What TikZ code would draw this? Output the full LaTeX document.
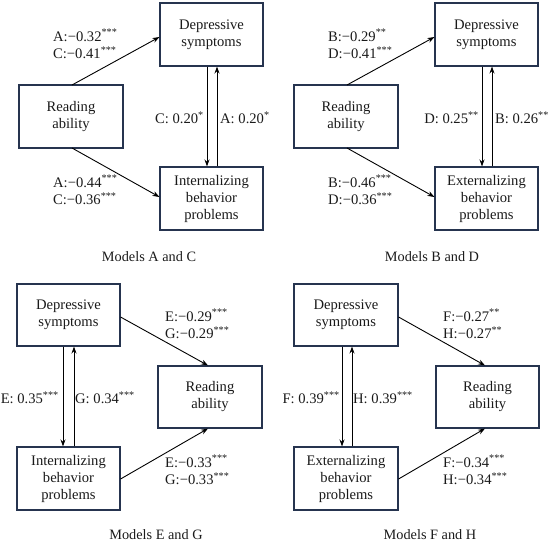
\documentclass[tikz,border=0pt]{standalone}
\usepackage{fontspec}
\setmainfont{Liberation Serif}
\usetikzlibrary{arrows.meta}
\definecolor{boxc}{HTML}{26344F}
\definecolor{txt}{HTML}{1A1A1A}
\tikzset{
  box/.style={draw=boxc, line width=1.1pt, fill=white, inner sep=0pt, align=center,
    font=\fontsize{14.6}{17}\selectfont, text=txt},
  conn/.style={draw=black, line width=0.9pt, -{Stealth[length=7pt,width=5pt]}},
  lab/.style={font=\fontsize{14.6}{17.5}\selectfont, text=txt, inner sep=0pt, align=left},
  captxt/.style={font=\fontsize{14.3}{17}\selectfont, text=txt, inner sep=0pt}
}
\newcommand{\st}[1]{\textsuperscript{#1}}
\newcommand{\mn}{−}
\begin{document}
\begin{tikzpicture}[x=1pt,y=-1pt]
\useasboundingbox (0,0) rectangle (550,546);
% ---------- Panel 1: Models A and C
\node[box, minimum width=103pt, minimum height=63pt] (d1) at (211.5,34.5) {Depressive\\symptoms};
\node[box, minimum width=104pt, minimum height=63pt] (r1) at (71,116.5) {Reading\\ability};
\node[box, minimum width=103pt, minimum height=63pt] (i1) at (211.5,198.5) {Internalizing\\behavior\\problems};
\coordinate (r1t) at (72,85); \coordinate (r1b) at (72,148);
\draw[conn] (r1t) -- (d1.west |- 0,37);
\draw[conn] (r1b) -- (i1.west |- 0,197);
\draw[conn] (d1.south -| 207,0) -- (i1.north -| 207,0);
\draw[conn] (i1.north -| 217,0) -- (d1.south -| 217,0);
\node[lab, anchor=west] (l1a) at (53,44) {A:\mn0.32\st{***}\\C:\mn0.41\st{***}};
\node[lab, anchor=west] (l1b) at (53,190) {A:\mn0.44\st{***}\\C:\mn0.36\st{***}};
\node[lab, anchor=east] (l1c) at (204,118) {C: 0.20\st{*}};
\node[lab, anchor=west] (l1d) at (220,118) {A: 0.20\st{*}};
\node[captxt] (c1) at (149,257) {Models A and C};
% ---------- Panel 2: Models B and D
\node[box, minimum width=103pt, minimum height=63pt] (d2) at (486.5,34.5) {Depressive\\symptoms};
\node[box, minimum width=104pt, minimum height=63pt] (r2) at (346,116.5) {Reading\\ability};
\node[box, minimum width=103pt, minimum height=63pt] (e2) at (486.5,198.5) {Externalizing\\behavior\\problems};
\coordinate (r2t) at (347,85); \coordinate (r2b) at (347,148);
\draw[conn] (r2t) -- (d2.west |- 0,37);
\draw[conn] (r2b) -- (e2.west |- 0,197);
\draw[conn] (d2.south -| 482,0) -- (e2.north -| 482,0);
\draw[conn] (e2.north -| 492,0) -- (d2.south -| 492,0);
\node[lab, anchor=west] (l2a) at (328,44) {B:\mn0.29\st{**}\\D:\mn0.41\st{***}};
\node[lab, anchor=west] (l2b) at (328,190) {B:\mn0.46\st{***}\\D:\mn0.36\st{***}};
\node[lab, anchor=east] (l2c) at (479,118) {D: 0.25\st{**}};
\node[lab, anchor=west] (l2d) at (495,118) {B: 0.26\st{**}};
\node[captxt] (c2) at (432,257) {Models B and D};
% ---------- Panel 3: Models E and G
\node[box, minimum width=103pt, minimum height=62pt] (d3) at (68.5,315) {Depressive\\symptoms};
\node[box, minimum width=104pt, minimum height=62pt] (r3) at (210,397) {Reading\\ability};
\node[box, minimum width=103pt, minimum height=63pt] (i3) at (68.5,478.5) {Internalizing\\behavior\\problems};
\draw[conn] (d3.east |- 0,317) -- (r3.north -| 208,0);
\draw[conn] (i3.east |- 0,479) -- (r3.south -| 208,0);
\draw[conn] (d3.south -| 63,0) -- (i3.north -| 63,0);
\draw[conn] (i3.north -| 74,0) -- (d3.south -| 74,0);
\node[lab, anchor=west] (l3a) at (165,324) {E:\mn0.29\st{***}\\G:\mn0.29\st{***}};
\node[lab, anchor=west] (l3b) at (165,470) {E:\mn0.33\st{***}\\G:\mn0.33\st{***}};
\node[lab, anchor=east] (l3c) at (59,398) {E: 0.35\st{***}};
\node[lab, anchor=west] (l3d) at (75,398) {G: 0.34\st{***}};
\node[captxt] (c3) at (156,535) {Models E and G};
% ---------- Panel 4: Models F and H
\node[box, minimum width=104pt, minimum height=62pt] (d4) at (346,315) {Depressive\\symptoms};
\node[box, minimum width=103pt, minimum height=62pt] (r4) at (487.5,397) {Reading\\ability};
\node[box, minimum width=104pt, minimum height=63pt] (e4) at (346,478.5) {Externalizing\\behavior\\problems};
\draw[conn] (d4.east |- 0,317) -- (r4.north -| 485,0);
\draw[conn] (e4.east |- 0,479) -- (r4.south -| 485,0);
\draw[conn] (d4.south -| 342,0) -- (e4.north -| 342,0);
\draw[conn] (e4.north -| 352,0) -- (d4.south -| 352,0);
\node[lab, anchor=west] (l4a) at (443,324) {F:\mn0.27\st{**}\\H:\mn0.27\st{**}};
\node[lab, anchor=west] (l4b) at (443,470) {F:\mn0.34\st{***}\\H:\mn0.34\st{***}};
\node[lab, anchor=east] (l4c) at (340,398) {F: 0.39\st{***}};
\node[lab, anchor=west] (l4d) at (353,398) {H: 0.39\st{***}};
\node[captxt] (c4) at (430,535) {Models F and H};
\end{tikzpicture}
\end{document}
